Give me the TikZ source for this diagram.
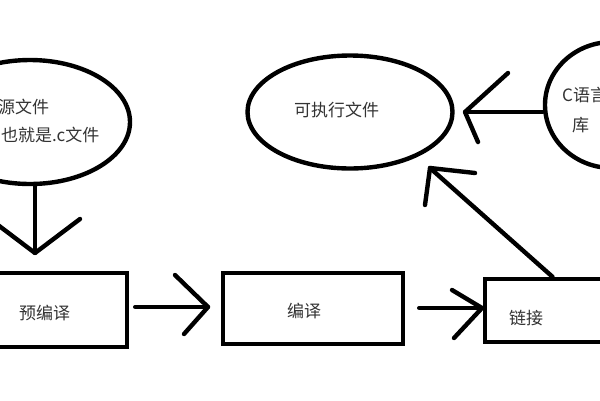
\documentclass[tikz,border=0pt]{standalone}
\usepackage{fontspec}
\setmainfont{Noto Sans CJK SC}
\usetikzlibrary{shapes.geometric}
\definecolor{txt}{HTML}{333333}
\tikzset{
  ln/.style={line width=4.4pt, line cap=round, line join=round, black},
  oval/.style={ellipse, draw, line width=4.4pt, inner sep=0pt},
  boxn/.style={rectangle, draw, line width=4.4pt, inner sep=0pt},
  lbl/.style={inner sep=0pt, text=txt, font=\fontsize{17}{19}\selectfont, anchor=west}
}
\begin{document}
\begin{tikzpicture}[x=1pt,y=-1pt]
\useasboundingbox (0,0) rectangle (600,400);
\clip (0,0) rectangle (600,400);
\fill[white] (0,0) rectangle (600,400);
% shapes
\node[oval, minimum width=200pt, minimum height=124pt] (src) at (30,122) {};
\node[oval, minimum width=205pt, minimum height=113pt] (exe) at (350,112) {};
\node[oval, minimum width=134pt, minimum height=126pt] (lib) at (612,105) {};
\node[boxn, minimum width=147pt, minimum height=74pt] (pre) at (53.5,310) {};
\node[boxn, minimum width=180pt, minimum height=71pt] (comp) at (313,308.5) {};
\node[boxn, minimum width=135pt, minimum height=63pt] (link) at (552.5,310.5) {};
% labels
\node[lbl] (srcA) at (-2,107) {源文件};
\node[lbl] (srcB) at (1,135) {也就是.c文件};
\node[lbl] (exeT) at (294,110) {可执行文件};
\node[lbl] (libA) at (562,95) {C语言};
\node[lbl] (libB) at (572,125) {库};
\node[lbl] (preT) at (19,313) {预编译};
\node[lbl] (compT) at (287,311) {编译};
\node[lbl] (linkT) at (509,318) {链接};
% arrow tips
\coordinate (t1) at (35,253);
\coordinate (t2) at (208,307);
\coordinate (t3) at (482,308);
\coordinate (t4) at (465,112);
\coordinate (t5) at (430,168);
% connectors
\draw[ln] (src.south -| t1) -- (t1);
\draw[ln] (-10,219) -- (t1) -- (80,219);
\draw[ln] ([xshift=6pt]pre.east |- t2) -- (t2);
\draw[ln] (175,275) -- (t2) -- (184,334);
\draw[ln] ([xshift=14pt]comp.east |- t3) -- (t3);
\draw[ln] (452,290) -- (t3) -- (454,338);
\draw[ln] (t4 -| lib.west) -- (t4);
\draw[ln] (508,73) -- (t4) -- (478,142);
\draw[ln] (link.north) -- (t5);
\draw[ln] (475,173) -- (t5) -- (425,205);
\end{tikzpicture}
\end{document}
